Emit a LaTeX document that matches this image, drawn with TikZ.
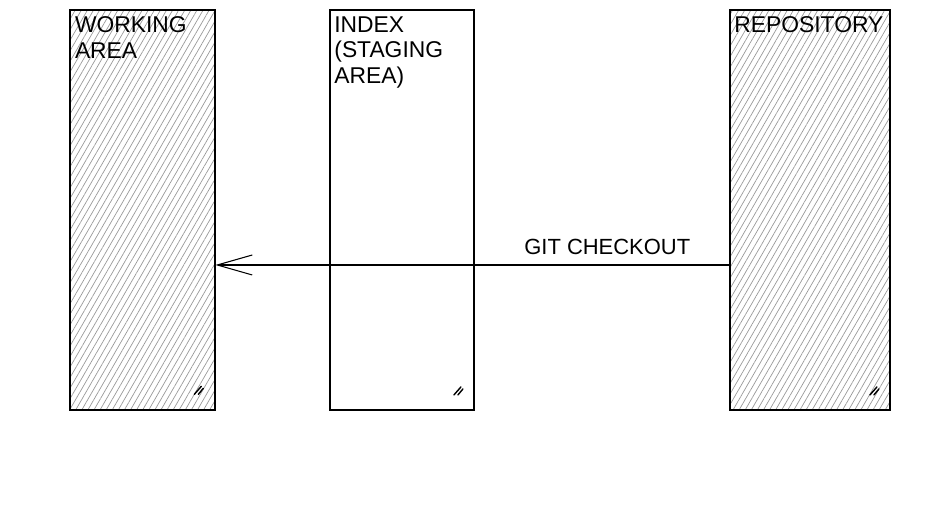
\documentclass[tikz,border=0pt]{standalone}
\usepackage{fontspec}
\setmainfont{Liberation Sans}
\usetikzlibrary{arrows.meta, patterns.meta}
\tikzset{
    area/.style = {draw, line width = 1.1pt, minimum height = 8cm, inner sep = 0pt},
    hatched/.style = {pattern = {Lines[angle = 60, distance = 3pt, line width = 0.4pt]}, pattern color = gray!80},
    label text/.style = {font = \fontsize{13}{14.5}\selectfont, align = left, anchor = north west, inner sep = 0pt},
    grip/.style = {line width = 0.8pt, line cap = round}
}
\begin{document}
\begin{tikzpicture}[x = 0.02cm, y = -0.02cm]
                \useasboundingbox (0, 0) rectangle (941, 520);
                \node [area, hatched, minimum width = 2.9cm] (work) at (142.5, 210) {};
                \node [area, minimum width = 2.88cm] (index) at (402, 210) {};
                \node [area, hatched, minimum width = 3.2cm] (repo) at (810, 210) {};
                \node [label text] (worklabel) at ([xshift = 0.1cm, yshift = -0.14cm]work.north west) {WORKING\\AREA};
                \node [label text] (indexlabel) at ([xshift = 0.1cm, yshift = -0.14cm]index.north west) {INDEX\\(STAGING\\AREA)};
                \node [label text] (repolabel) at ([xshift = 0.1cm, yshift = -0.14cm]repo.north west) {REPOSITORY};
                \draw [-{Straight Barb[length = 7mm, width = 4mm]}, line width = 0.6pt] ([yshift = -1.1cm]repo.west) -- node [pos = 0.237, above = 0.2cm, font = \fontsize{12.5}{14}\selectfont, inner sep = 0pt] (checkout) {GIT CHECKOUT} ([yshift = -1.1cm]work.east);
                % small marks in the corners
                \draw [grip] ([xshift = -0.42cm, yshift = 0.32cm]work.south east) -- ++(0.14cm, 0.16cm);
                \draw [grip] ([xshift = -0.34cm, yshift = 0.32cm]work.south east) -- ++(0.1cm, 0.12cm);
                \draw [grip] ([xshift = -0.42cm, yshift = 0.32cm]index.south east) -- ++(0.14cm, 0.16cm);
                \draw [grip] ([xshift = -0.34cm, yshift = 0.32cm]index.south east) -- ++(0.1cm, 0.12cm);
                \draw [grip] ([xshift = -0.42cm, yshift = 0.32cm]repo.south east) -- ++(0.14cm, 0.16cm);
                \draw [grip] ([xshift = -0.34cm, yshift = 0.32cm]repo.south east) -- ++(0.1cm, 0.12cm);
            \end{tikzpicture}
\end{document}
